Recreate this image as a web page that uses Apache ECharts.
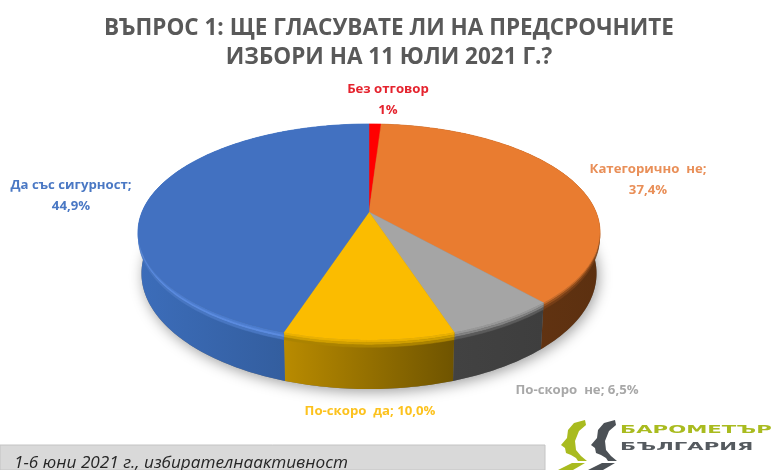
<!DOCTYPE html>
<html><head><meta charset="utf-8">
<style>html,body{margin:0;padding:0;background:#fff}#c{width:780px;height:470px;filter:blur(0.45px)}</style>
<script src="https://cdn.jsdelivr.net/npm/echarts@6/dist/echarts.min.js"></script>
</head><body><div id="c"></div>
<script>
// data
const categories = ['Без отговор','Категорично не','По-скоро не','По-скоро да','Да със сигурност'];
const values = [1, 37.4, 6.5, 10.0, 44.9];
const valueLabels = ['Без отговор\n1%','Категорично  не;\n37,4%','По-скоро  не; 6,5%','По-скоро  да; 10,0%','Да със сигурност;\n44,9%'];
const titleLines = 'ВЪПРОС 1: ЩЕ ГЛАСУВАТЕ ЛИ НА ПРЕДСРОЧНИТЕ\nИЗБОРИ НА 11 ЮЛИ 2021 Г.?';
const footerText = '1-6 юни 2021 г., избирателнаактивност';
const logoLines = ['БАРОМЕТЪР','БЪЛГАРИЯ'];

// styles
const topColors  = ['#ff0000','#e97c30','#a5a5a5','#fbbc00','#4271c1'];
const rimColors  = ['#ff0000','#8a4a1c','#7c7c7c','#c89a00','#5f90e4'];
const wallLeft   = ['#b00000','#6e3a14','#424242','#b98b00','#3c6dba'];
const wallRight  = ['#b00000','#5c3010','#3e3e3e','#6f5400','#2e558f'];
const labelColors= ['#e5232e','#e98f58','#a8a8a8','#fcc21e','#4a78c4'];
const labelPos   = [[388,99.5],[648,179.5],[577,390],[370,411],[71,195.5]];

// projection of the tilted disc
const CX=369, CY=212, R=227, S=104.3, K=0.185, DEPTH=40;
const total = values.reduce((a,b)=>a+b,0);
function proj(deg, depth){
  const a=deg*Math.PI/180, s=Math.sin(a), f=-Math.cos(a), w=1-K*f;
  const d=depth||0;
  return [CX+R*s/w*(1-0.015*d/DEPTH), CY+S*f/w+d/w];
}
function arcRange(i){
  let st=0; for(let k=0;k<i;k++) st+=values[k];
  return [st/total*360,(st+values[i])/total*360];
}
function rim(a0,a1,depth){
  const pts=[], n=Math.max(2,Math.ceil(a1-a0));
  for(let j=0;j<=n;j++) pts.push(proj(a0+(a1-a0)*j/n,depth));
  return pts;
}
const sliceData = values.map((v,i)=>[i,v]);

const renderShadow=(p,api)=>({type:'polygon',
  shape:{points:rim(0,360,DEPTH)},
  style:{fill:'#777',shadowColor:'rgba(0,0,0,0.38)',shadowBlur:14,shadowOffsetX:2,shadowOffsetY:3}});

const renderWall=(p,api)=>{
  const i=api.value(0), [a0,a1]=arcRange(i);
  const grad={type:'linear',x:0,y:0,x2:1,y2:0,colorStops:[{offset:0,color:wallLeft[i]},{offset:1,color:wallRight[i]}]};
  const children=[{type:'polygon',shape:{points:rim(a0,a1,0).concat(rim(a0,a1,DEPTH).reverse())},style:{fill:grad}}];
  const mid=echarts.color.lerp(0.5,[wallLeft[i],wallRight[i]]);
  const bands=[[0,2,0.35,rimColors[i]],[2,4,0.85,rimColors[i]],[4,6,0.55,mid]];
  bands.forEach(b=>{
    const c=b[3]===rimColors[i]?echarts.color.lerp(b[2],[topColors[i],rimColors[i]]):echarts.color.lerp(b[2],[rimColors[i],mid]);
    children.push({type:'polygon',shape:{points:rim(a0,a1,b[0]).concat(rim(a0,a1,b[1]).reverse())},style:{fill:c,stroke:c,lineWidth:0.4}});
  });
  return {type:'group',children};
};

const renderTop=(p,api)=>{
  const i=api.value(0), [a0,a1]=arcRange(i);
  return {type:'polygon',shape:{points:[[CX,CY]].concat(rim(a0,a1,0))},
    style:{fill:topColors[i],stroke:topColors[i],lineWidth:0.4}};
};

const renderLabel=(p,api)=>{
  const i=api.value(0);
  return {type:'text',x:labelPos[i][0],y:labelPos[i][1],
    style:{text:valueLabels[i],fill:labelColors[i],align:'center',verticalAlign:'middle',
      font:'700 13.2px "Open Sans", sans-serif',lineHeight:21}};
};

const headA=[[585,420],[574,423],[568,430],[567,438],[561,445],[565,448],[566,453],[571,455],[576,458],[578,461],[587,461],[581,456],[576,450],[575,441],[579,431],[586,425]];
const headB=[[572,463],[585,463],[573,470],[558,470]];
const shift=(pts,dx)=>pts.map(q=>[q[0]+dx,q[1]]);

const chart=echarts.init(document.getElementById('c'),null,{renderer:'canvas'});
chart.setOption({
  animation:false,
  backgroundColor:'#fff',
  title:{text:titleLines,left:384,top:9,textAlign:'center',
    textStyle:{fontFamily:'"Open Sans", sans-serif',fontSize:22.5,fontWeight:700,color:'#595959',lineHeight:29}},
  series:[
    {type:'custom',coordinateSystem:'none',data:[[0]],renderItem:renderShadow,silent:true,z:1},
    {type:'custom',coordinateSystem:'none',data:sliceData,renderItem:renderWall,silent:true,z:2},
    {type:'custom',coordinateSystem:'none',data:sliceData,renderItem:renderTop,silent:true,z:3},
    {type:'custom',coordinateSystem:'none',data:sliceData,renderItem:renderLabel,silent:true,z:4}
  ],
  graphic:[
    {type:'rect',shape:{x:0,y:445,width:545,height:25},style:{fill:'#d9d9d9',stroke:'#c4c4c4',lineWidth:1},z:5},
    {type:'text',x:14,y:463,style:{text:footerText,fill:'#262626',verticalAlign:'middle',font:'italic 17.2px "Open Sans", sans-serif'},z:6},
    {type:'polygon',z:6,shape:{points:headA},style:{fill:'#a9bb1f'}},
    {type:'polygon',z:6,shape:{points:headB},style:{fill:'#a9bb1f'}},
    {type:'polygon',z:6,shape:{points:shift(headA,30)},style:{fill:'#4c5156'}},
    {type:'polygon',z:6,shape:{points:shift(headB,30)},style:{fill:'#4c5156'}},
    {type:'text',x:620,y:430,scaleX:1.93,style:{text:logoLines[0],fill:'#a9bb1f',verticalAlign:'middle',font:'bold 11px "DejaVu Sans", sans-serif'},z:6},
    {type:'text',x:620,y:447,scaleX:1.93,style:{text:logoLines[1],fill:'#555a5f',verticalAlign:'middle',font:'bold 11px "DejaVu Sans", sans-serif'},z:6}
  ]
});
</script></body></html>
